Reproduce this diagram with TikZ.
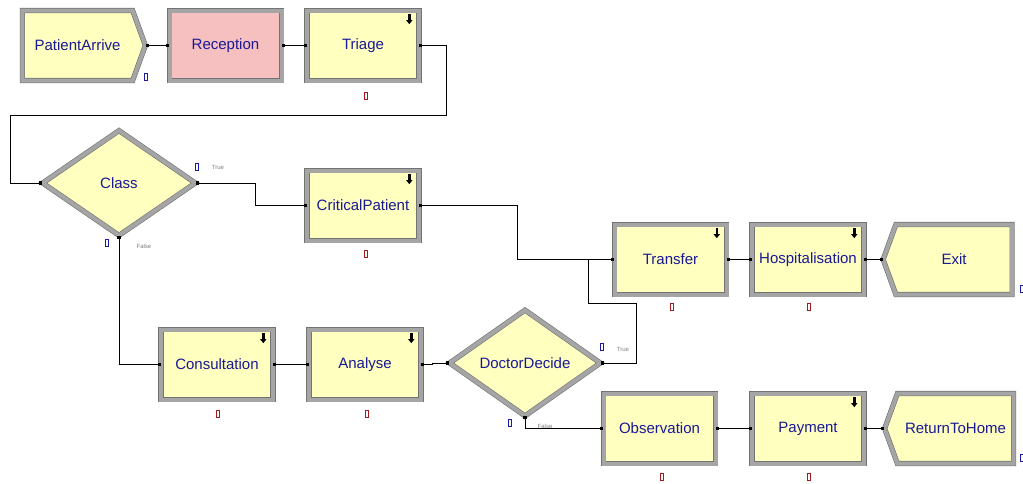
\documentclass[tikz,border=0pt]{standalone}
\usepackage{fontspec}
\setmainfont{Liberation Sans}
\usetikzlibrary{shapes.geometric,shapes.symbols,arrows.meta}
\definecolor{modyellow}{RGB}{255,255,192}
\definecolor{modpink}{RGB}{247,192,192}
\definecolor{modblue}{RGB}{25,25,150}
\definecolor{bandgray}{RGB}{165,165,165}
\definecolor{edgegray}{RGB}{115,115,115}
\definecolor{cntred}{RGB}{170,25,25}
\definecolor{cntblue}{RGB}{25,25,175}

\begin{document}
\begin{tikzpicture}[
    x=1pt, y=-1pt,
    every node/.style={
    font=\fontsize{15}{15}\selectfont, text=modblue},
    band/.style={draw=edgegray, double=bandgray, double distance=4pt, line width=0.6pt, fill=modyellow},
    module/.style={band, rectangle, minimum width=112pt, minimum height=70pt, inner sep=0pt},
    create/.style={band, signal, signal to=east, signal pointer angle=140, minimum width=123pt, minimum height=70pt, inner sep=0pt},
    dispose/.style={band, signal, signal to=west, signal pointer angle=140, minimum width=129pt, minimum height=70pt, inner sep=0pt},
    decide/.style={band, diamond, aspect=1.45, inner sep=0pt},
    conn/.style={draw=black, line width=0.9pt, {Square[length=3pt,width=3.5pt]}-{Square[length=3pt,width=3.5pt]}},
    tag/.style={font=\fontsize{6}{6}\selectfont, text=gray}]
    \def\cnt#1#2#3{\node[draw=#3, line width=0.8pt, minimum width=3pt, minimum height=7pt, inner sep=0pt] (#1) at #2 {};}
    \def\busy#1{\draw[-{Triangle[length=4pt,width=6pt]}, line width=2.4pt] ([shift={(-10,4)}]#1.north east) -- ++(0,10);}

    \fill[white] (0,0) rectangle (1023,483);
    \useasboundingbox (0,0) rectangle (1023,483);

    % top row
    \node[create] (arrive) at (77.5,45.5) {PatientArrive};
    \node[module, fill=modpink] (reception) at (225.5,45.5) {Reception};
    \node[module] (triage) at (363,45.5) {Triage};

    % decisions and processes
    \node[decide, minimum width=153pt, minimum height=105pt] (classd) at (119,183) {Class};
    \node[module] (critical) at (363,205.5) {CriticalPatient};
    \node[module] (transfer) at (670.5,259.5) {Transfer};
    \node[module] (hosp) at (808,259.5) {Hospitalisation};
    \node[dispose] (exit) at (954,259.5) {Exit};
    \node[module] (consult) at (217,364.5) {Consultation};
    \node[module] (analyse) at (365,364.5) {Analyse};
    \node[decide, minimum width=151pt, minimum height=106pt] (docdecide) at (525,363) {DoctorDecide};
    \node[module] (observe) at (659.5,428.5) {Observation};
    \node[module] (payment) at (808,428.5) {Payment};
    \node[dispose] (home) at (955.5,428.5) {ReturnToHome};

    \foreach \m in {triage,critical,transfer,hosp,consult,analyse,payment}
        {\busy{\m}}

    % counters
    \cnt{c-arrive}{(146,77)}{cntblue}
    \cnt{q-triage}{(366,96)}{cntred}
    \cnt{c-ctrue}{(197,167)}{cntblue}
    \cnt{c-cfalse}{(107,243)}{cntblue}
    \cnt{q-critical}{(366,254)}{cntred}
    \cnt{q-transfer}{(672,307)}{cntred}
    \cnt{q-hosp}{(809,307)}{cntred}
    \cnt{c-exit}{(1022,289)}{cntblue}
    \cnt{q-consult}{(218,414)}{cntred}
    \cnt{q-analyse}{(367,414)}{cntred}
    \cnt{c-dtrue}{(602,347)}{cntblue}
    \cnt{c-dfalse}{(510,423)}{cntblue}
    \cnt{q-observe}{(662,477)}{cntred}
    \cnt{q-payment}{(809,477)}{cntred}
    \cnt{c-home}{(1022,458)}{cntblue}

    \node[tag] (t-ctrue) at (218,167) {True};
    \node[tag] (t-cfalse) at (144,246) {False};
    \node[tag] (t-dtrue) at (623,349) {True};
    \node[tag] (t-dfalse) at (545,426) {False};

    % connectors
    \coordinate (k1) at (446,115);
    \coordinate (k2) at (10,115);
    \coordinate (k3) at (255,183);
    \coordinate (k4) at (517,205.5);
    \coordinate (k5) at (636,303);
    \coordinate (k6) at (588,303);
    \draw[conn] (arrive.east) -- (reception.west);
    \draw[conn] (reception.east) -- (triage.west);
    \draw[conn] (triage.east) -| (k1) -- (k2) |- (classd.west);
    \draw[conn] (classd.east) -- (k3) |- (critical.west);
    \draw[conn] (critical.east) -- (k4) |- (transfer.west);
    \draw[conn] (transfer.east) -- (hosp.west);
    \draw[conn] (hosp.east) -- (exit.west);
    \draw[conn] (classd.south) |- (consult.west);
    \draw[conn] (consult.east) -- (analyse.west);
    \draw[conn] (analyse.east) -- ++(11,0) |- (docdecide.west);
    \draw[conn] (docdecide.east) -| (k5) -- (k6) |- (transfer.west);
    \draw[conn] (docdecide.south) |- (observe.west);
    \draw[conn] (observe.east) -- (payment.west);
    \draw[conn] (payment.east) -- (home.west);
\end{tikzpicture}
\end{document}
